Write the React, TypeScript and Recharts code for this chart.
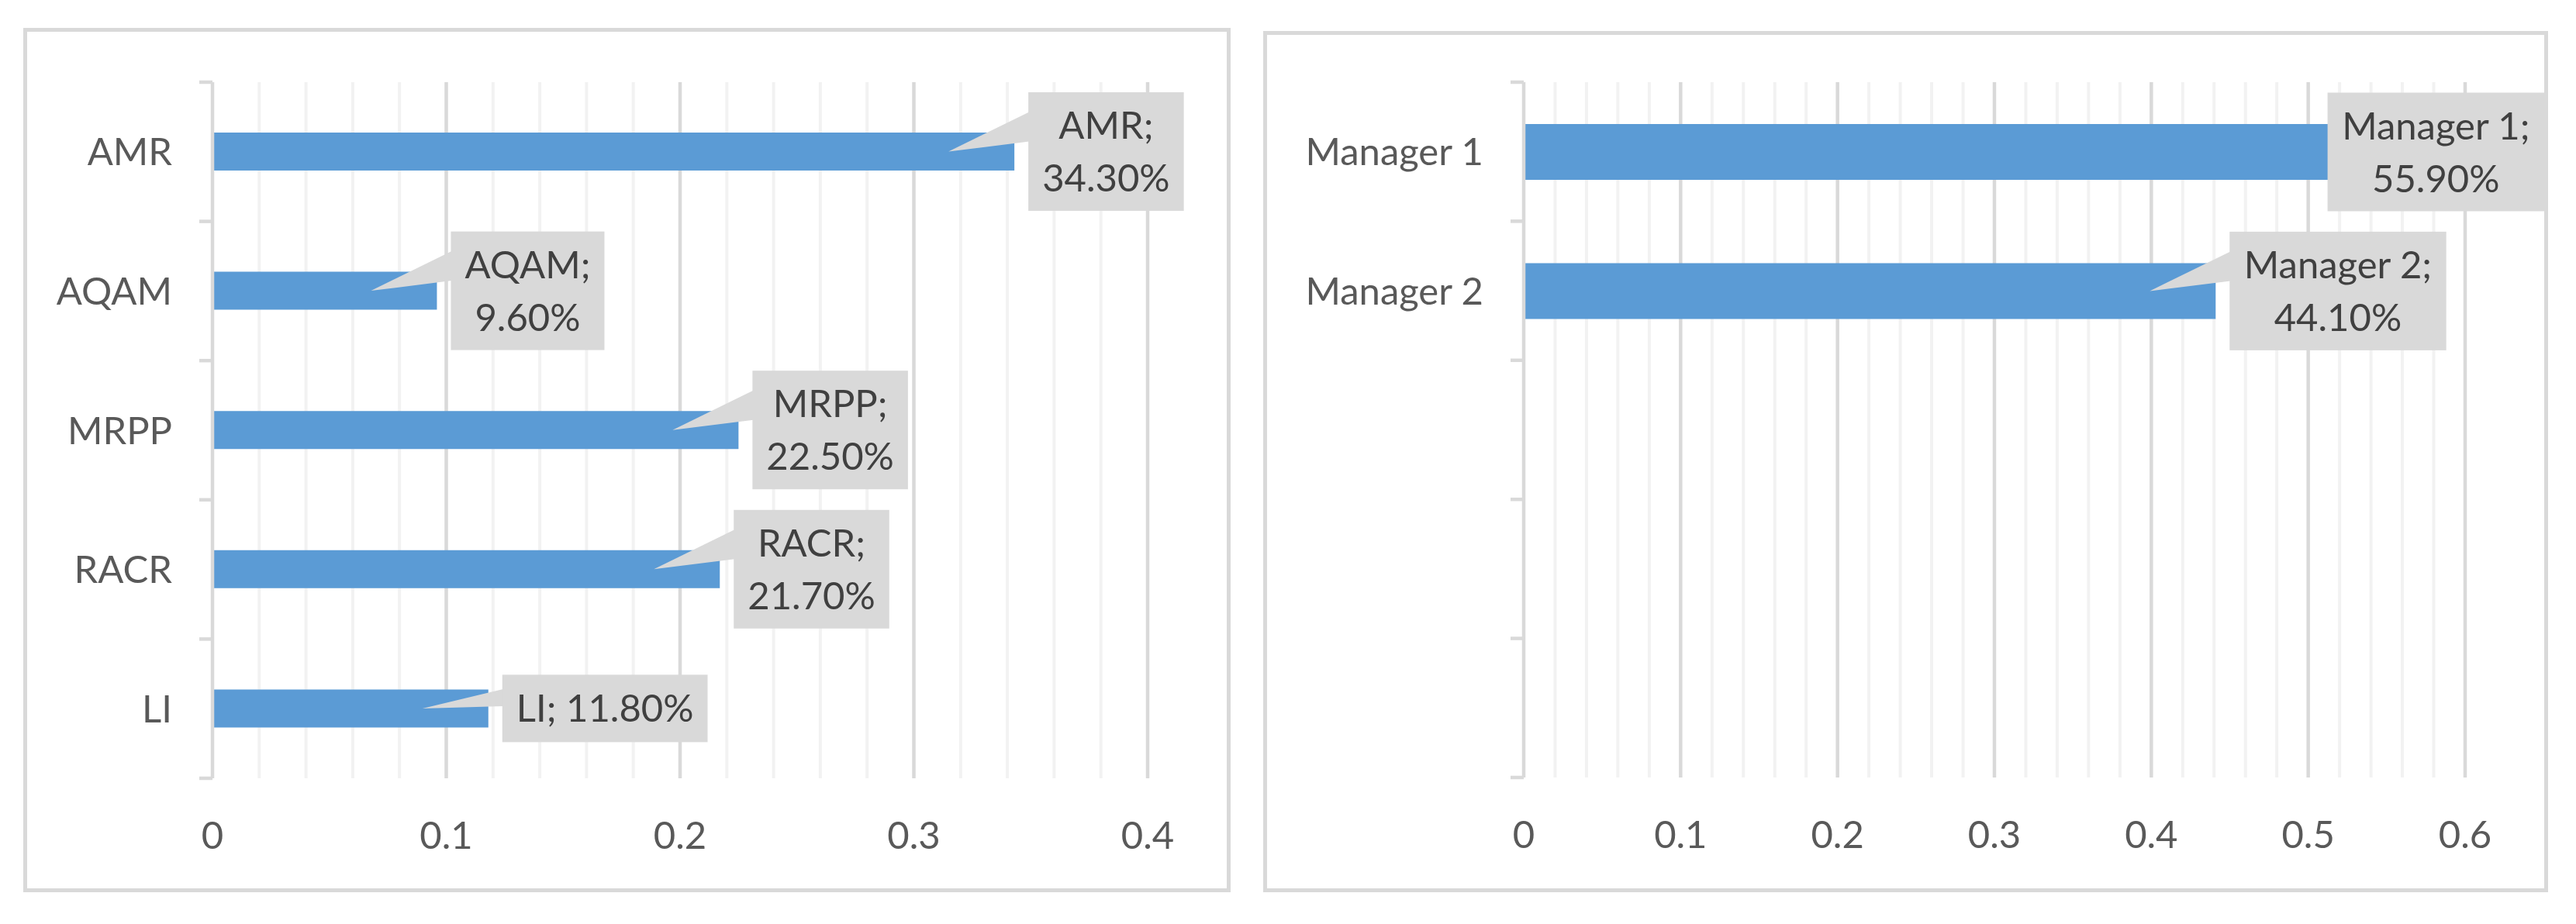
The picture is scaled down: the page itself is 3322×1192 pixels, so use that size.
import { BarChart, Bar, XAxis, YAxis, CartesianGrid, LabelList } from "recharts";

const leftCategories = ["AMR", "AQAM", "MRPP", "RACR", "LI"];
const leftShares = [0.343, 0.096, 0.225, 0.217, 0.118];
const leftTicks = [0, 0.1, 0.2, 0.3, 0.4];
const leftMajorGrid = [0.1, 0.2, 0.3, 0.4];
const leftMinorGrid = [0.02, 0.04, 0.06, 0.08, 0.12, 0.14, 0.16, 0.18, 0.22, 0.24, 0.26, 0.28, 0.32, 0.34, 0.36, 0.38];

const rightCategories = ["Manager 1", "Manager 2", "", "", ""];
const rightShares = [0.559, 0.441, null, null, null];
const rightTicks = [0, 0.1, 0.2, 0.3, 0.4, 0.5, 0.6];
const rightMajorGrid = [0.1, 0.2, 0.3, 0.4, 0.5, 0.6];
const rightMinorGrid = [
  0.02, 0.04, 0.06, 0.08, 0.12, 0.14, 0.16, 0.18, 0.22, 0.24, 0.26, 0.28,
  0.32, 0.34, 0.36, 0.38, 0.42, 0.44, 0.46, 0.48, 0.52, 0.54, 0.56, 0.58,
];

const FONT = "Lato, 'Noto Sans', sans-serif";
const FONT_SIZE = 49;
const BAR = "#5b9bd5";
const GRID_MAJOR = "#d9d9d9";
const GRID_MINOR = "#f2f2f2";
const BOX = "#d9d9d9";
const BORDER = 5;

let ctx: CanvasRenderingContext2D | null = null;
function textWidth(s: string) {
  if (!ctx) ctx = document.createElement("canvas").getContext("2d");
  if (!ctx) return s.length * FONT_SIZE * 0.5;
  ctx.font = `${FONT_SIZE}px Lato`;
  return ctx.measureText(s).width;
}

const pct = (v: number) => (v * 100).toFixed(2) + "%";

const gridGen = (vals: number[], max: number) => (p: any) =>
  vals.map((v) =>
    p.xAxis && typeof p.xAxis.scale === "function"
      ? p.xAxis.scale(v)
      : p.offset.left + (v / max) * p.offset.width
  );

interface PanelProps {
  left: number;
  top: number;
  width: number;
  height: number;
  plotLeft: number;
  plotTop: number;
  plotWidth: number;
  plotHeight: number;
  categories: string[];
  shares: (number | null)[];
  ticks: number[];
  major: number[];
  minor: number[];
  barSize: number;
}

function Panel(p: PanelProps) {
  const max = p.ticks[p.ticks.length - 1];
  const data = p.categories.map((name, i) => ({ id: "c" + i, name, share: p.shares[i] }));
  const yWidth = p.plotLeft - 20;
  const xHeight = 100;
  const margin = {
    top: p.plotTop,
    left: 20,
    right: p.width - p.plotLeft - p.plotWidth,
    bottom: p.height - p.plotTop - p.plotHeight - xHeight,
  };
  const band = p.plotHeight / p.categories.length;
  const plotBottom = p.plotTop + p.plotHeight;
  const innerRight = p.width - BORDER;

  const YTick = (t: any) => {
    const i = t.index ?? 0;
    const y = t.y;
    const name = p.categories[i] ?? "";
    return (
      <g>
        <line x1={p.plotLeft - 17} x2={p.plotLeft} y1={y - band / 2} y2={y - band / 2} stroke={GRID_MAJOR} strokeWidth={4.5} />
        {i === p.categories.length - 1 && (
          <line x1={p.plotLeft - 17} x2={p.plotLeft} y1={y + band / 2} y2={y + band / 2} stroke={GRID_MAJOR} strokeWidth={4.5} />
        )}
        <text x={p.plotLeft - 52} y={y + 17.5} textAnchor="end" fill="#595959" fontFamily={FONT} fontSize={FONT_SIZE}>
          {name}
        </text>
      </g>
    );
  };

  const XTick = (t: any) => (
    <text x={t.x} y={plotBottom + 91} textAnchor="middle" fill="#595959" fontFamily={FONT} fontSize={FONT_SIZE}>
      {String(t.payload.value)}
    </text>
  );

  const Callout = (l: any) => {
    const i = l.index;
    const v = p.shares[i];
    if (v == null) return null;
    const x = Number(l.x);
    const w = Number(l.width);
    const barEnd = x + w;
    const cy = Number(l.y) + Number(l.height) / 2;
    const name = p.categories[i];
    const full = `${name}; ${pct(v)}`;
    const wrap = textWidth(full) > 250;
    const lines = wrap ? [`${name};`, pct(v)] : [full];
    const tw = Math.max(...lines.map(textWidth));
    const bw = tw + 36;
    const bh = wrap ? 153 : 87;
    let bx = barEnd + 18;
    if (bx + bw > innerRight) bx = innerRight - bw;
    const by = cy - bh / 2;
    const showPointer = bx > barEnd;
    const tipX = barEnd - 85;
    const baseTop = wrap ? cy - 51 : cy - 25;
    const baseBot = wrap ? cy - 13 : cy - 3;
    return (
      <g>
        {showPointer && (
          <polygon points={`${bx + 1},${baseTop} ${bx + 1},${baseBot} ${tipX},${cy}`} fill={BOX} />
        )}
        <rect x={bx} y={by} width={bw} height={bh} fill={BOX} />
        {lines.map((s, k) => (
          <text
            key={k}
            x={bx + bw / 2}
            y={wrap ? cy - 16.5 + k * 68 : cy + 17.5}
            textAnchor="middle"
            fill="#404040"
            fontFamily={FONT}
            fontSize={FONT_SIZE}
          >
            {s}
          </text>
        ))}
      </g>
    );
  };

  return (
    <>
      <div
        style={{
          position: "absolute",
          left: p.left,
          top: p.top,
          width: p.width,
          height: p.height,
          boxSizing: "border-box",
          border: `${BORDER}px solid ${GRID_MAJOR}`,
          background: "#ffffff",
        }}
      />
      <div style={{ position: "absolute", left: p.left, top: p.top }}>
        <BarChart width={p.width} height={p.height} data={data} layout="vertical" margin={margin}>
          <CartesianGrid horizontal={false} stroke={GRID_MINOR} strokeWidth={4} verticalCoordinatesGenerator={gridGen(p.minor, max)} />
          <CartesianGrid horizontal={false} stroke={GRID_MAJOR} strokeWidth={4.5} verticalCoordinatesGenerator={gridGen(p.major, max)} />
          <XAxis
            type="number"
            domain={[0, max]}
            ticks={p.ticks}
            height={xHeight}
            axisLine={false}
            tickLine={false}
            tickSize={0}
            tickMargin={0}
            tick={XTick}
            interval={0}
          />
          <YAxis
            type="category"
            dataKey="id"
            width={yWidth}
            axisLine={{ stroke: GRID_MAJOR, strokeWidth: 4.5 }}
            tickLine={false}
            tickSize={0}
            tickMargin={0}
            tick={YTick}
            interval={0}
          />
          <Bar dataKey="share" fill={BAR} barSize={p.barSize} isAnimationActive={false}>
            <LabelList dataKey="share" content={Callout} />
          </Bar>
        </BarChart>
      </div>
    </>
  );
}

export default function App() {
  return (
    <div style={{ position: "absolute", left: 0, top: 0, width: 3322, height: 1192, background: "#ffffff", overflow: "hidden" }}>
      <Panel
        left={30}
        top={36}
        width={1557}
        height={1115}
        plotLeft={244}
        plotTop={70}
        plotWidth={1206}
        plotHeight={898}
        categories={leftCategories}
        shares={leftShares}
        ticks={leftTicks}
        major={leftMajorGrid}
        minor={leftMinorGrid}
        barSize={49}
      />
      <Panel
        left={1629}
        top={40}
        width={1657}
        height={1111}
        plotLeft={336}
        plotTop={66}
        plotWidth={1214}
        plotHeight={897}
        categories={rightCategories}
        shares={rightShares}
        ticks={rightTicks}
        major={rightMajorGrid}
        minor={rightMinorGrid}
        barSize={72}
      />
    </div>
  );
}
